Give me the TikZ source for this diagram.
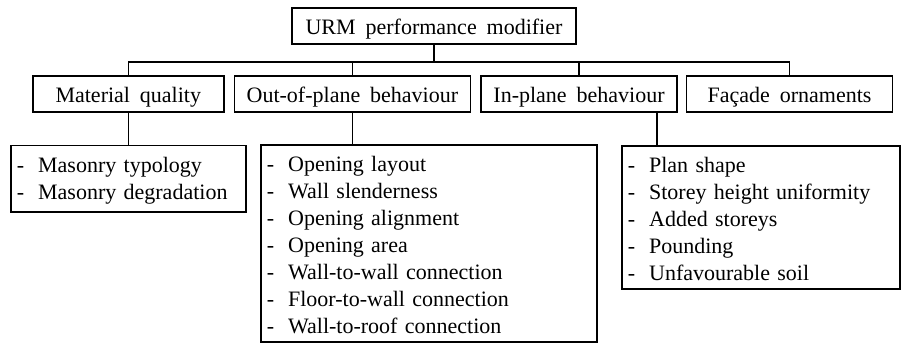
\documentclass[tikz,border=0pt]{standalone}
\usepackage{fontspec}
\setmainfont{Liberation Serif}[WordSpace=1.8]
\usetikzlibrary{positioning}
\usetikzlibrary{calc}

\newcommand{\dashitem}{-\hspace{14pt}}
\newcommand{\firstline}{\rule{0pt}{19pt}}

\begin{document}
\begin{tikzpicture}[x=1pt,y=1pt,line width=1.6pt,node distance=9pt,
                    box node/.style={rectangle,draw,minimum height=36pt,inner sep=0pt,
                      text height=17pt,text depth=0pt,font=\fontsize{22}{27}\selectfont},
                    list node/.style={rectangle,draw,align=left,inner xsep=6pt,inner ysep=8pt,
                      font=\fontsize{22}{27}\selectfont}]
      \useasboundingbox (0,0) rectangle (901,-344);

      \node[box node, minimum width=284pt] (1) at (434,-26) {URM performance modifier};
      \node[box node, minimum width=191pt, anchor=north west] (2) at (32,-75) {Material quality};
      \node[box node, minimum width=236pt] (3) [right=of 2] {Out-of-plane behaviour};
      \node[box node, minimum width=196pt] (4) [right=of 3] {In-plane behaviour};
      \node[box node, minimum width=206pt] (5) [right=8pt of 4] {Façade ornaments};

      \node[list node, text width=223pt] (6) [below=32pt of 2]
        {\firstline\dashitem Masonry typology\\
         \dashitem Masonry degradation};
      \node[list node, text width=324pt, anchor=north west] (7) at (260,-144)
        {\firstline\dashitem Opening layout\\
         \dashitem Wall slenderness\\
         \dashitem Opening alignment\\
         \dashitem Opening area\\
         \dashitem Wall-to-wall connection\\
         \dashitem Floor-to-wall connection\\
         \dashitem Wall-to-roof connection};
      \node[list node, text width=266pt, anchor=north west] (8) at (621,-145)
        {\firstline\dashitem Plan shape\\
         \dashitem Storey height uniformity\\
         \dashitem Added storeys\\
         \dashitem Pounding\\
         \dashitem Unfavourable soil};

      % tree connectors
      \coordinate (bus) at ($(1.south)+(0,-17)$);
      \coordinate (drop) at ($(4.south east)+(-21,0)$);
      \draw (1.south) -- (bus);
      \draw (2.north) |- (bus) -| (5.north);
      \draw (3.north) -- (3.north |- bus);
      \draw (4.north) -- (4.north |- bus);
      \draw (2) -- (6);
      \draw (3.south) -- (3.south |- 7.north);
      \draw (drop) -- (drop |- 8.north);
\end{tikzpicture}
\end{document}
